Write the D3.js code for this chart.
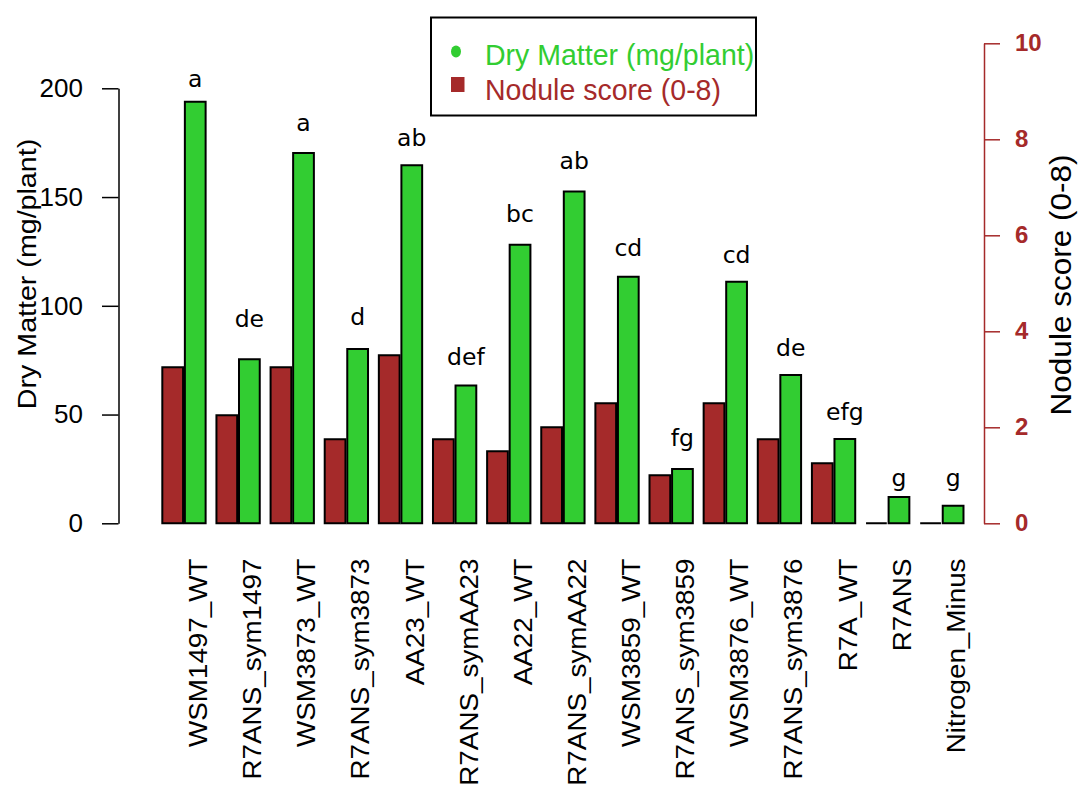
<!DOCTYPE html>
<html>
<head>
<meta charset="utf-8">
<script src="https://cdn.jsdelivr.net/npm/d3@7"></script>
<style>
  html, body { margin: 0; padding: 0; background: #fff; }
  svg { display: block; }
</style>
</head>
<body>
<svg id="chart" width="1078" height="785"></svg>
<script>
// Strains / treatments along the x axis
const categories = [
  "WSM1497_WT", "R7ANS_sym1497", "WSM3873_WT", "R7ANS_sym3873", "AA23_WT",
  "R7ANS_symAA23", "AA22_WT", "R7ANS_symAA22", "WSM3859_WT", "R7ANS_sym3859",
  "WSM3876_WT", "R7ANS_sym3876", "R7A_WT", "R7ANS", "Nitrogen_Minus"
];
// Nodule score (0-8), right axis
const noduleScore = [3.25, 2.25, 3.25, 1.75, 3.5, 1.75, 1.5, 2, 2.5, 1, 2.5, 1.75, 1.25, 0, 0];
// Dry matter (mg/plant), left axis
const dryMatter = [193.8, 75.4, 170.3, 80.1, 164.6, 63.3, 128.1, 152.5, 113.4, 25.0, 111.1, 68.2, 38.8, 12.1, 8.1];
// Significance groups and the dry-matter height at which each is written
const sigLetters = ["a", "de", "a", "d", "ab", "def", "bc", "ab", "cd", "fg", "cd", "de", "efg", "g", "g"];
const sigLabelY = [200.5, 90.4, 180.4, 91.2, 173.5, 72.8, 138.7, 162.9, 123.0, 35.5, 119.5, 76.9, 47.5, 17.1, 17.1];
// Axis ticks
const leftTicks = [0, 50, 100, 150, 200];
const rightTicks = [0, 2, 4, 6, 8, 10];
const seriesNames = ["Nodule score (0-8)", "Dry Matter (mg/plant)"];

const GREEN = "#32CD32";
const BROWN = "#A52A2A";

const svg = d3.select("#chart");

const yBase = 523.3;
const yL = d3.scaleLinear().domain([0, 200]).range([yBase, 88.3]);
const yR = d3.scaleLinear().domain([0, 10]).range([yBase, 43.3]);

const x = d3.scaleBand()
  .domain(categories)
  .range([156.9, 968.9])
  .paddingInner(0.2)
  .paddingOuter(0.1);

const xInner = d3.scaleBand()
  .domain(["nod", "dm"])
  .range([0, x.bandwidth()])
  .paddingInner(0.08);

// Bars as closed paths so that zero-height bars still show their outline
function barPath(x0, w, yTop) {
  return `M${x0},${yBase}V${yTop}H${x0 + w}V${yBase}Z`;
}

const groups = svg.append("g").selectAll("g")
  .data(categories.map((c, i) => ({
    c, nod: noduleScore[i], dm: dryMatter[i], sig: sigLetters[i], sigY: sigLabelY[i]
  })))
  .join("g")
  .attr("transform", d => `translate(${x(d.c)},0)`);

groups.append("path")
  .attr("d", d => barPath(xInner("nod"), xInner.bandwidth(), yR(d.nod)))
  .attr("fill", BROWN)
  .attr("stroke", "#000")
  .attr("stroke-width", 2);

groups.append("path")
  .attr("d", d => barPath(xInner("dm"), xInner.bandwidth(), yL(d.dm)))
  .attr("fill", GREEN)
  .attr("stroke", "#000")
  .attr("stroke-width", 2);

groups.append("text")
  .attr("x", xInner("dm") + xInner.bandwidth() / 2)
  .attr("y", d => yL(d.sigY))
  .attr("text-anchor", "middle")
  .attr("font-family", "DejaVu Sans, sans-serif")
  .attr("font-size", 23.5)
  .attr("fill", "#000")
  .text(d => d.sig);

// Category labels, rotated, sitting under the dry-matter bar
svg.append("g").selectAll("text")
  .data(categories)
  .join("text")
  .attr("transform", d => `translate(${x(d) + x.bandwidth() / 2 + 23},558.5) rotate(-90) scale(1.05,1)`)
  .attr("text-anchor", "end")
  .attr("font-family", "Liberation Sans, Arial, sans-serif")
  .attr("font-size", 26.5)
  .attr("fill", "#000")
  .text(d => d);

// Left axis
const axL = svg.append("g")
  .attr("transform", "translate(118.5,0)")
  .call(d3.axisLeft(yL).tickValues(leftTicks).tickSize(16.5).tickSizeOuter(0).tickPadding(19));
axL.select(".domain").attr("stroke", "#000").attr("stroke-width", 1.5);
axL.selectAll(".tick line").attr("stroke", "#000").attr("stroke-width", 1.5);
axL.selectAll(".tick text")
  .attr("font-family", "Liberation Sans, Arial, sans-serif")
  .attr("font-size", 26)
  .attr("fill", "#000");

// Right axis
const axR = svg.append("g")
  .attr("transform", "translate(984,0)")
  .call(d3.axisRight(yR).tickValues(rightTicks).tickSize(16).tickSizeOuter(0).tickPadding(15));
axR.select(".domain").attr("stroke", BROWN).attr("stroke-width", 1.5);
axR.selectAll(".tick line").attr("stroke", BROWN).attr("stroke-width", 1.5);
axR.selectAll(".tick text")
  .attr("font-family", "Liberation Sans, Arial, sans-serif")
  .attr("font-size", 24)
  .attr("font-weight", "bold")
  .attr("fill", BROWN);

// Axis titles
svg.append("text")
  .attr("transform", "translate(36,274) rotate(-90) scale(1.08,1)")
  .attr("text-anchor", "middle")
  .attr("font-family", "Liberation Sans, Arial, sans-serif")
  .attr("font-size", 26.5)
  .attr("fill", "#000")
  .text(seriesNames[1]);

svg.append("text")
  .attr("transform", "translate(1071,285) rotate(-90) scale(1.05,1)")
  .attr("text-anchor", "middle")
  .attr("font-family", "Liberation Sans, Arial, sans-serif")
  .attr("font-size", 30)
  .attr("fill", "#000")
  .text(seriesNames[0]);

// Legend
const legend = svg.append("g");
legend.append("rect")
  .attr("x", 431).attr("y", 17.5)
  .attr("width", 325).attr("height", 98)
  .attr("fill", "#fff")
  .attr("stroke", "#000")
  .attr("stroke-width", 2);
legend.append("ellipse")
  .attr("cx", 456).attr("cy", 51.5)
  .attr("rx", 5).attr("ry", 6)
  .attr("fill", GREEN);
legend.append("rect")
  .attr("x", 451).attr("y", 77)
  .attr("width", 13.5).attr("height", 15)
  .attr("fill", BROWN);
legend.append("text")
  .attr("transform", "translate(485,65) scale(1,1.06)")
  .attr("font-family", "Liberation Sans, Arial, sans-serif")
  .attr("font-size", 28.5)
  .attr("fill", GREEN)
  .text(seriesNames[1]);
legend.append("text")
  .attr("transform", "translate(485,100) scale(1,1.06)")
  .attr("font-family", "Liberation Sans, Arial, sans-serif")
  .attr("font-size", 28.5)
  .attr("fill", BROWN)
  .text(seriesNames[0]);
</script>
</body>
</html>
